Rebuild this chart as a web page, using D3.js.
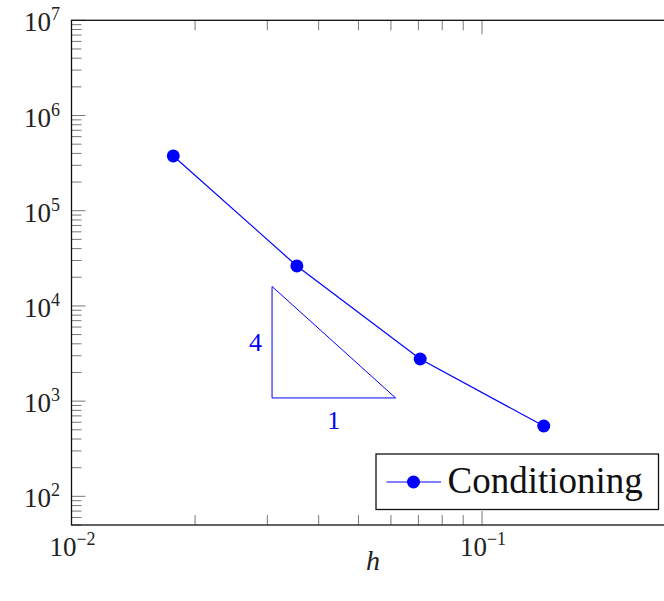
<!DOCTYPE html>
<html>
<head>
<meta charset="utf-8">
<script src="https://cdn.jsdelivr.net/npm/d3@7"></script>
<style>
  body { margin: 0; background: #fff; overflow: hidden; }
</style>
</head>
<body>
<div id="visualization"></div>
<script>
const blue = '#0000ff'
const serif = "'Times New Roman', 'Liberation Serif', 'DejaVu Serif', serif"

// mesh size h and condition number
const hValues = [0.0177, 0.0354, 0.0707, 0.1414]
const condValues = [3.76e5, 2.63e4, 2.77e3, 548]

// slope triangle (rise 4 over run 1 in log-log)
const triH = [0.0308, 0.0308, 0.0616]
const triCond = [1.6e4, 1.08e3, 1.08e3]

const xMajor = [0.01, 0.1]
const xMinor = [0.02, 0.03, 0.04, 0.05, 0.06, 0.07, 0.08, 0.09]
const yMajor = [1e2, 1e3, 1e4, 1e5, 1e6, 1e7]
const yMinor = d3.range(1, 7).flatMap(e => d3.range(2, 10).map(m => m * Math.pow(10, e)))
  .filter(v => v >= 50)

const margins = { top: 20.3, bottom: 76, left: 71.5 }
const W = 664
const H = 601

const svg = d3.select('#visualization').append('svg')
  .attr('width', W)
  .attr('height', H)
  .style('font-family', serif)

const x = d3.scaleLog()
  .domain([0.01, 0.3])
  .range([margins.left, margins.left + 410.5 * Math.log10(30)])

const y = d3.scaleLog()
  .domain([50, 1e7])
  .range([H - margins.bottom, margins.top])

const [x0, x1] = x.range()
const [y0, y1] = y.range()

// ticks (inward, mirrored)
const ticks = svg.append('g').attr('stroke', '#555').attr('stroke-width', 0.8)
const tickLen = v => (xMajor.includes(v) || yMajor.includes(v)) ? 14 : 10

xMajor.concat(xMinor).forEach(v => {
  ticks.append('line').attr('x1', x(v)).attr('x2', x(v)).attr('y1', y0).attr('y2', y0 - tickLen(v))
  ticks.append('line').attr('x1', x(v)).attr('x2', x(v)).attr('y1', y1).attr('y2', y1 + tickLen(v))
})
yMajor.concat(yMinor).forEach(v => {
  ticks.append('line').attr('x1', x0).attr('x2', x0 + tickLen(v)).attr('y1', y(v)).attr('y2', y(v))
})

// frame
svg.append('rect')
  .attr('x', x0).attr('y', y1)
  .attr('width', x1 - x0).attr('height', y0 - y1)
  .attr('fill', 'none')
  .attr('stroke', '#111')
  .attr('stroke-width', 1.3)

// tick labels
const yl = svg.append('g').attr('font-size', 27).attr('fill', '#222')
yMajor.forEach(v => {
  const t = yl.append('text')
    .attr('x', 60).attr('y', y(v) + 11)
    .attr('text-anchor', 'end')
  t.append('tspan').text('10')
  t.append('tspan').attr('font-size', 18).attr('dy', -11).text(Math.round(Math.log10(v)))
})

const xl = svg.append('g').attr('font-size', 27).attr('fill', '#222')
xMajor.forEach(v => {
  const t = xl.append('text')
    .attr('x', x(v) + 1).attr('y', y0 + 31)
    .attr('text-anchor', 'middle')
  t.append('tspan').text('10')
  t.append('tspan').attr('font-size', 18).attr('dy', -11).text('\u2212' + Math.abs(Math.round(Math.log10(v))))
})

svg.append('text')
  .attr('x', 373).attr('y', 570)
  .attr('text-anchor', 'middle')
  .attr('font-size', 28)
  .attr('font-style', 'italic')
  .attr('fill', '#222')
  .text('h')

// data line and markers
const pts = hValues.map((h, i) => ({ h, c: condValues[i] }))

svg.append('path')
  .datum(pts)
  .attr('fill', 'none')
  .attr('stroke', blue)
  .attr('stroke-width', 1.2)
  .attr('d', d3.line().x(d => x(d.h)).y(d => y(d.c)))

svg.selectAll('circle.pt')
  .data(pts)
  .enter().append('circle')
  .attr('class', 'pt')
  .attr('cx', d => x(d.h))
  .attr('cy', d => y(d.c))
  .attr('r', 6.5)
  .attr('fill', blue)

// slope triangle
const tri = triH.map((h, i) => [x(h), y(triCond[i])])
svg.append('path')
  .attr('d', d3.line()(tri) + 'Z')
  .attr('fill', 'none')
  .attr('stroke', blue)
  .attr('stroke-width', 1)

svg.append('text')
  .attr('x', tri[0][0] - 10).attr('y', (tri[0][1] + tri[1][1]) / 2 + 9)
  .attr('text-anchor', 'end')
  .attr('font-size', 26)
  .attr('fill', blue)
  .text('4')
svg.append('text')
  .attr('x', (tri[1][0] + tri[2][0]) / 2).attr('y', tri[1][1] + 31)
  .attr('text-anchor', 'middle')
  .attr('font-size', 26)
  .attr('fill', blue)
  .text('1')

// legend
const lg = svg.append('g').attr('transform', 'translate(376,454)')
lg.append('rect')
  .attr('width', 282.5).attr('height', 55.5)
  .attr('fill', '#fff')
  .attr('stroke', '#111')
  .attr('stroke-width', 1.3)
lg.append('line')
  .attr('x1', 10.5).attr('x2', 65).attr('y1', 28).attr('y2', 28)
  .attr('stroke', blue).attr('stroke-width', 1.2)
lg.append('circle')
  .attr('cx', 37.5).attr('cy', 28).attr('r', 6.5)
  .attr('fill', blue)
lg.append('text')
  .attr('x', 71.5).attr('y', 38.5)
  .attr('font-size', 37)
  .attr('fill', '#111')
  .text('Conditioning')
</script>
</body>
</html>
